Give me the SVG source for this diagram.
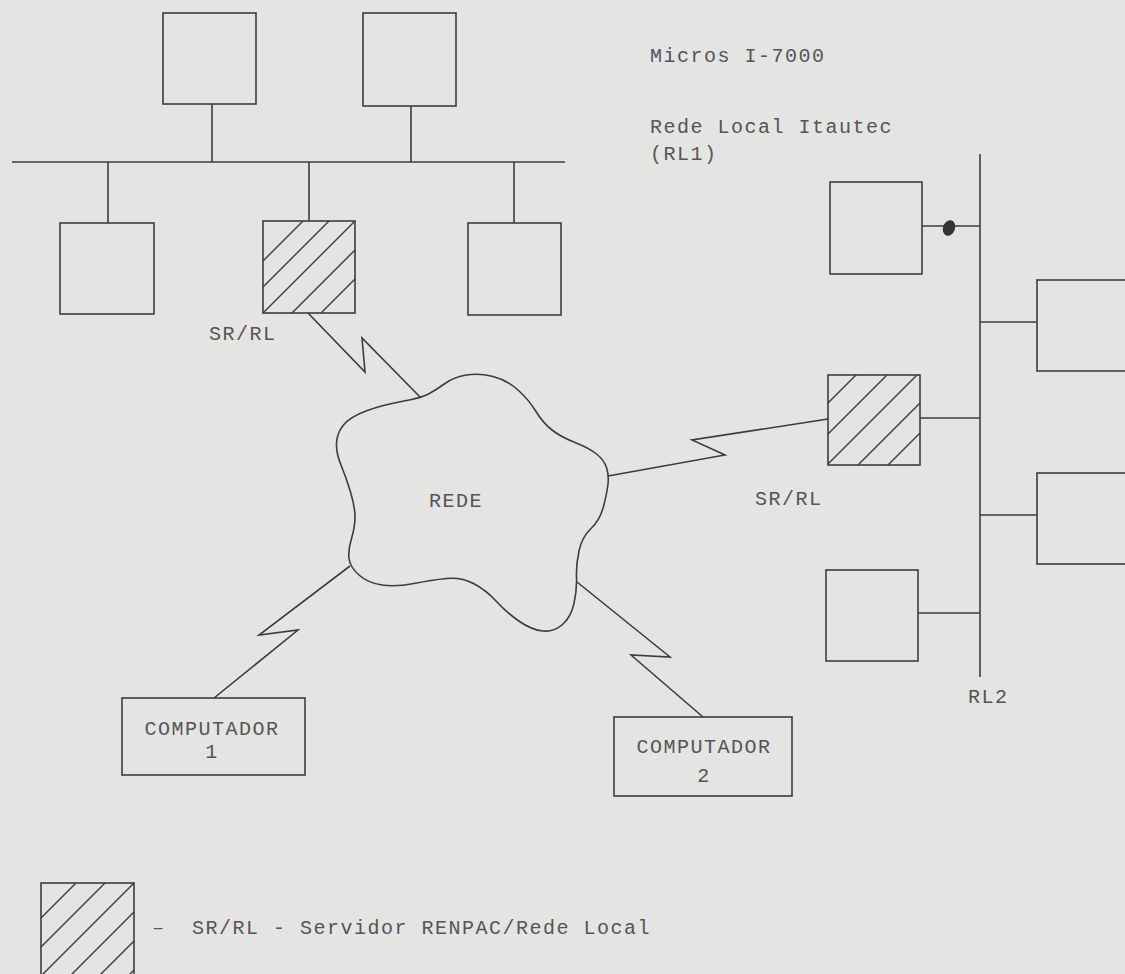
<svg xmlns="http://www.w3.org/2000/svg" width="1125" height="974" viewBox="0 0 1125 974">
<style>
.bg{fill:#e4e4e2}
.box{fill:none;stroke:#3c3c3c;stroke-width:1.6}
.ln{fill:none;stroke:#3c3c3c;stroke-width:1.6;stroke-linejoin:miter}
.hatch{stroke:#3c3c3c;stroke-width:1.4}
.t{font-family:"Liberation Mono","Courier New",monospace;font-size:20px;fill:#555;letter-spacing:1.5px}
.c{text-anchor:middle}
</style>
<rect class="bg" width="1125" height="974"/>

<g id="labels">
<text class="t" x="650" y="62">Micros I-7000</text>
<text class="t" x="650" y="133">Rede Local Itautec</text>
<text class="t" x="650" y="160">(RL1)</text>
<text class="t" x="209" y="340">SR/RL</text>
<text class="t" x="755" y="505">SR/RL</text>
<text class="t" x="968" y="703">RL2</text>
</g>

<g id="connectors">
<line class="ln" x1="12" y1="162" x2="565" y2="162"/>
<line class="ln" x1="212" y1="104" x2="212" y2="162"/>
<line class="ln" x1="411" y1="106" x2="411" y2="162"/>
<line class="ln" x1="108" y1="162" x2="108" y2="223"/>
<line class="ln" x1="309" y1="162" x2="309" y2="221"/>
<line class="ln" x1="514" y1="162" x2="514" y2="223"/>
<line class="ln" x1="980" y1="154" x2="980" y2="677"/>
<line class="ln" x1="922" y1="226" x2="980" y2="226"/>
<line class="ln" x1="980" y1="322" x2="1037" y2="322"/>
<line class="ln" x1="920" y1="418" x2="980" y2="418"/>
<line class="ln" x1="980" y1="515" x2="1037" y2="515"/>
<line class="ln" x1="918" y1="613" x2="980" y2="613"/>
<ellipse cx="949" cy="228" rx="6" ry="8" transform="rotate(20 949 228)" fill="#333"/>
<polyline class="ln" points="308,313 365,372 362,338 421,398"/>
<polyline class="ln" points="608,476 725,455 692,440 828,419"/>
<polyline class="ln" points="350,566 259,635 298,630 214,698"/>
<polyline class="ln" points="577,582 670,657 631,655 703,717"/>
</g>

<g id="top1"><rect class="box" x="163" y="13" width="93" height="91"/></g>
<g id="top2"><rect class="box" x="363" y="13" width="93" height="93"/></g>
<g id="bot1"><rect class="box" x="60" y="223" width="94" height="91"/></g>
<g id="srl1">
<rect class="box" x="263" y="221" width="92" height="92"/>
<line class="hatch" x1="263" y1="261" x2="303" y2="221"/>
<line class="hatch" x1="263" y1="287" x2="329" y2="221"/>
<line class="hatch" x1="263" y1="313" x2="355" y2="221"/>
<line class="hatch" x1="292" y1="313" x2="355" y2="250"/>
<line class="hatch" x1="321" y1="313" x2="355" y2="279"/>
</g>
<g id="bot3"><rect class="box" x="468" y="223" width="93" height="92"/></g>

<g id="rede">
<path class="box" d="M 401.5,401.5 Q 382,405 366,411 Q 350,417 343.5,425 Q 337,433 336.5,443 Q 336,453 341,465 Q 346,477 350.5,492 Q 355,507 355,517 Q 355,527 351.5,538.5 Q 348,550 349,558.5 Q 350,567 359,575 Q 368,583 382,585 Q 396,587 414,583.5 Q 432,580 446.5,578.5 Q 461,577 473.5,583.5 Q 486,590 496.5,601.5 Q 507,613 519.5,621.5 Q 532,630 543,631 Q 554,632 562.5,624.5 Q 571,617 574,603.5 Q 577,590 576.5,577.5 Q 576,565 579,551 Q 582,537 591,528.5 Q 600,520 603.5,506.5 Q 607,493 608,484 Q 609,475 606.5,467.5 Q 604,460 596.5,454 Q 589,448 575,442.5 Q 561,437 552,430 Q 543,423 536,411.5 Q 529,400 518,390 Q 507,380 493,376.5 Q 479,373 466.5,375 Q 454,377 445,383.5 Q 436,390 428.5,394 Q 421,398 401.5,401.5 Z"/>
<text class="t c" x="456" y="507">REDE</text>
</g>

<g id="comp1">
<rect class="box" x="122" y="698" width="183" height="77"/>
<text class="t c" x="212" y="735">COMPUTADOR</text>
<text class="t c" x="212" y="758">1</text>
</g>
<g id="comp2">
<rect class="box" x="614" y="717" width="178" height="79"/>
<text class="t c" x="704" y="753">COMPUTADOR</text>
<text class="t c" x="704" y="782">2</text>
</g>

<g id="r1"><rect class="box" x="830" y="182" width="92" height="92"/></g>
<g id="r2"><rect class="box" x="1037" y="280" width="100" height="91"/></g>
<g id="srl2">
<rect class="box" x="828" y="375" width="92" height="90"/>
<line class="hatch" x1="828" y1="403" x2="856" y2="375"/>
<line class="hatch" x1="828" y1="434" x2="887" y2="375"/>
<line class="hatch" x1="828" y1="464" x2="917" y2="375"/>
<line class="hatch" x1="858" y1="465" x2="920" y2="403"/>
<line class="hatch" x1="888" y1="465" x2="920" y2="433"/>
</g>
<g id="r3"><rect class="box" x="1037" y="473" width="100" height="91"/></g>
<g id="r4"><rect class="box" x="826" y="570" width="92" height="91"/></g>

<g id="legend">
<rect class="box" x="41" y="883" width="93" height="100"/>
<line class="hatch" x1="41" y1="918" x2="76" y2="883"/>
<line class="hatch" x1="41" y1="947" x2="105" y2="883"/>
<line class="hatch" x1="41" y1="976" x2="134" y2="883"/>
<line class="hatch" x1="63" y1="983" x2="134" y2="912"/>
<line class="hatch" x1="92" y1="983" x2="134" y2="941"/>
<line class="hatch" x1="121" y1="983" x2="134" y2="970"/>
<text class="t"><tspan x="152" y="934">–</tspan><tspan x="192" y="934">SR/RL - Servidor RENPAC/Rede Local</tspan></text>
</g>
</svg>
